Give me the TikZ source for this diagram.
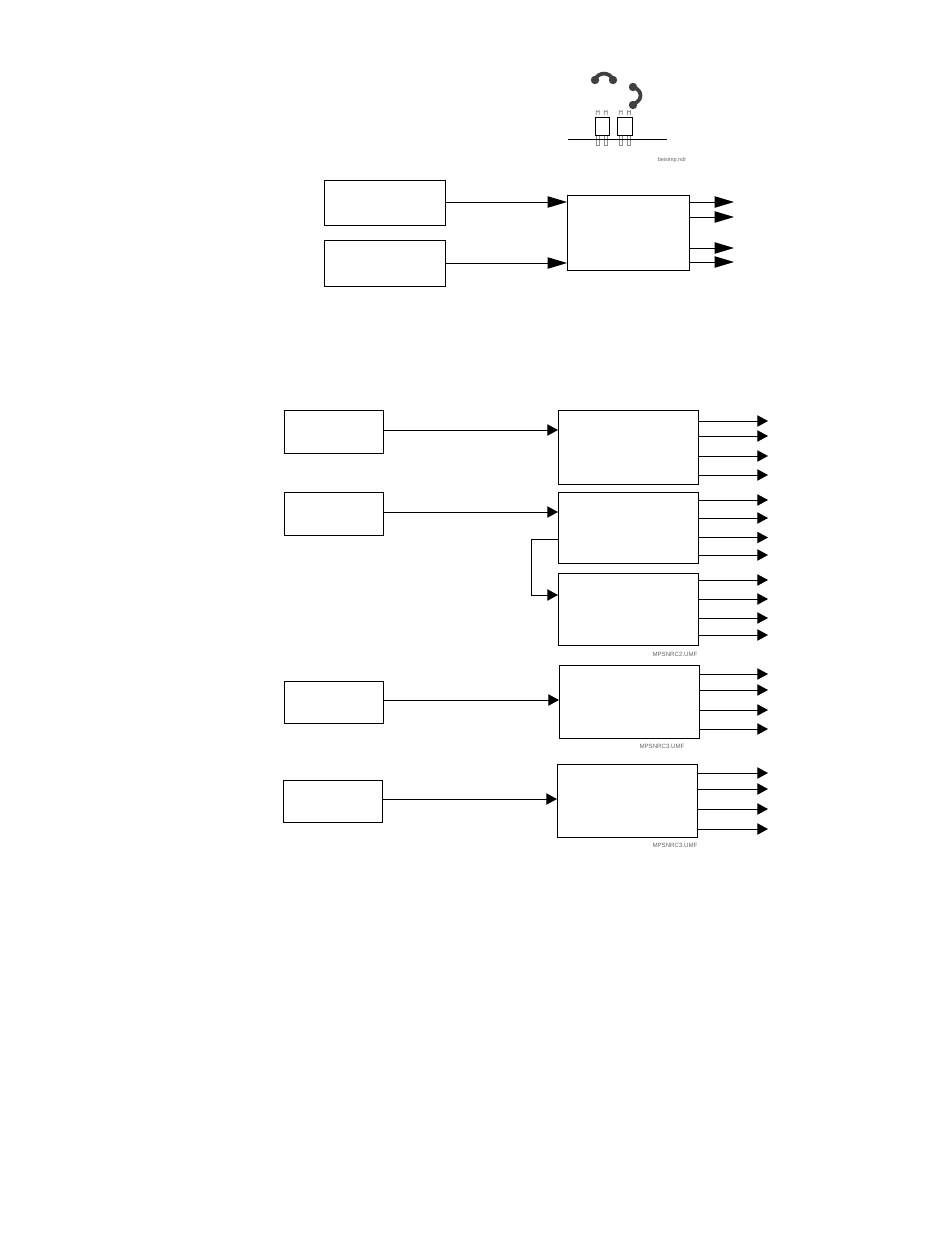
\documentclass[tikz,border=0pt]{standalone}
\usepackage{fontspec}
\setmainfont{Liberation Sans}
\usetikzlibrary{arrows.meta}
\tikzset{
  x=0.75pt,y=-0.75pt,
  blockbox/.style={draw=black,line width=0.55pt,fill=white,inner sep=0pt,outer sep=0pt,anchor=north west},
  bigarrow/.style={draw=black,line width=0.75pt,-{Triangle[length=14.5pt,width=8.5pt,fill=black]}},
  smallarrow/.style={draw=black,line width=0.75pt,-{Triangle[length=8pt,width=8.5pt,fill=black]}},
  caption/.style={font=\fontsize{4.6pt}{5pt}\selectfont,text=black!60,inner sep=0pt,anchor=center},
  coil/.style={draw=black!75,line width=2.8pt},
  blob/.style={fill=black!75,draw=none},
  pin/.style={draw=black!45,line width=0.45pt,fill=white},
  boardline/.style={draw=black,line width=0.7pt},
  chip/.style={draw=black,line width=0.7pt,fill=white}
}
\newcommand{\blockat}[5]{\node[blockbox,minimum width=#4*0.75pt,minimum height=#5*0.75pt] (#1) at (#2,#3) {};}
\begin{document}
\begin{tikzpicture}
\useasboundingbox (0,0) rectangle (950,1254);
\fill[white] (0,0) rectangle (950,1254);

% top icon
\draw[coil] (595,80) .. controls (598,71.5) and (610,71.5) .. (613,80);
\fill[blob] (595,80) circle (4.2);
\fill[blob] (613,80) circle (4.2);
\draw[coil] (633,87) .. controls (643,90) and (643,101) .. (633,104);
\fill[blob] (633,87) circle (4.2);
\fill[blob] (633,105) circle (4.2);
\foreach \px in {597.7,605.7,620.7,629}{
  \draw[pin] (\px-1.5,135) rectangle (\px+1.5,145);
  \draw[pin] (\px-1.5,115) -- (\px-1.5,110.5) arc[start angle=180,end angle=0,radius=1.5] -- (\px+1.5,115);
}
\draw[boardline] (568,139) -- (667,139);
\node[chip,inner sep=0pt,minimum width=13.7*0.75pt,minimum height=18*0.75pt,anchor=north west] (chipa) at (595,117) {};
\node[chip,inner sep=0pt,minimum width=15*0.75pt,minimum height=18*0.75pt,anchor=north west] (chipb) at (617,117) {};
\node[caption,font=\fontsize{4.1pt}{5pt}\selectfont] (capz) at (672,160) {beisimp.ndr};

% top blocks
\blockat{a1}{324}{180}{121}{45}
\blockat{a2}{324}{240.5}{121}{45.5}
\blockat{b0}{567}{195}{122}{75}
\draw[bigarrow] (a1.east |- 0,202) -- (b0.west |- 0,202);
\draw[bigarrow] (a2.east |- 0,263) -- (b0.west |- 0,263);
\foreach \n/\yy in {1/202,2/217,3/248,4/262}{
  \coordinate (bo\n) at (734,\yy);
  \draw[bigarrow] (b0.east |- bo\n) -- (bo\n);
}

% lower left blocks
\blockat{l1}{284}{410}{99}{43}
\blockat{l2}{284}{492}{99}{43}
\blockat{l3}{284}{681}{99}{42}
\blockat{l4}{283}{780}{99}{42}
% lower right blocks
\blockat{r1}{558}{410}{140}{74}
\blockat{r2}{558}{492}{140}{71}
\blockat{r3}{558}{573}{140}{72}
\blockat{r4}{559}{665}{140}{73}
\blockat{r5}{557}{764}{140}{73}

\draw[smallarrow] (l1.east |- 0,430) -- (r1.west |- 0,430);
\draw[smallarrow] (l2.east |- 0,512) -- (r2.west |- 0,512);
\draw[smallarrow] (l3.east |- 0,700) -- (r4.west |- 0,700);
\draw[smallarrow] (l4.east |- 0,799) -- (r5.west |- 0,799);
\draw[smallarrow] (r2.west |- 0,539) -- (531.5,539) -- (531.5,595) -- (r3.west |- 0,595);

\foreach \b/\ys in {r1/{421,436,456,475},r2/{500,518,537.5,555},r3/{580,599,618,635},r4/{674,690,710,729},r5/{773,789,809,829}}{
  \foreach \yy [count=\k] in \ys {
    \coordinate (\b o\k) at (768,\yy);
    \draw[smallarrow] (\b.east |- \b o\k) -- (\b o\k);
  }
}

\node[caption] (cap2) at (675,654.5) {MPSNRC2.UMF};
\node[caption] (cap3) at (662,746.5) {MPSNRC3.UMF};
\node[caption] (cap4) at (675,845.5) {MPSNRC3.UMF};
\end{tikzpicture}
\end{document}
